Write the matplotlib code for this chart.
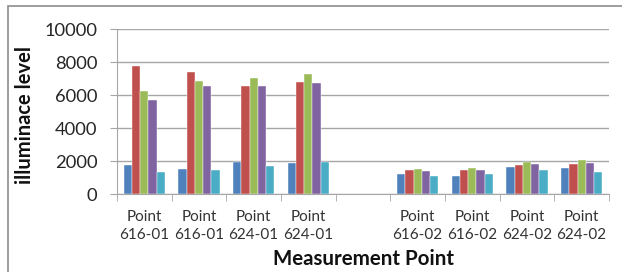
import numpy as np
import matplotlib
matplotlib.use("Agg")
import matplotlib.pyplot as plt
from matplotlib.patches import Rectangle

# -------------
# DATA
# -------------
labels = ["Point\n616-01", "Point\n616-01", "Point\n624-01", "Point\n624-01", "",
          "Point\n616-02", "Point\n616-02", "Point\n624-02", "Point\n624-02"]
s1 = [1780, 1560, 1960, 1880, np.nan, 1210, 1130, 1660, 1600]
s2 = [7750, 7410, 6540, 6830, np.nan, 1500, 1500, 1780, 1840]
s3 = [6240, 6890, 7050, 7290, np.nan, 1560, 1600, 1960, 2060]
s4 = [5700, 6540, 6540, 6770, np.nan, 1430, 1500, 1840, 1900]
s5 = [1350, 1500, 1720, 1960, np.nan, 1130, 1210, 1500, 1350]
series = [s1, s2, s3, s4, s5]
colors = ["#4F81BD", "#C0504D", "#9BBB59", "#8064A2", "#4BACC6"]
yticks = [0, 2000, 4000, 6000, 8000, 10000]

plt.rcParams['font.family'] = ['Lato', 'DejaVu Sans']

fig = plt.figure(figsize=(6.22, 2.72), dpi=100)
# chart frame (only top/left visible in the crop)
fig.patches.append(Rectangle((8/622, -0.1), 1.2, 1 - 6/272 + 0.1, transform=fig.transFigure,
                             fill=False, edgecolor="#8c8c8c", linewidth=1.2))

ax = fig.add_axes([117/622, 1 - 194.3/272, (609 - 117)/622, 165/272])

n = len(labels)
x = np.arange(n)
bw = 0.152
for i, (vals, c) in enumerate(zip(series, colors)):
    ax.bar(x + (i - 2) * bw, vals, width=bw, color=c, edgecolor="white", linewidth=0.3, zorder=3)

ax.set_xlim(-0.5, n - 0.5)
ax.set_ylim(0, 10000)
ax.set_yticks(yticks)
ax.set_yticklabels([str(v) for v in yticks], fontsize=13.2, color="#262626")
ax.grid(axis="y", color="#a6a6a6", linewidth=1.0, zorder=0)

ax.set_xticks(x)
ax.set_xticklabels(labels, fontsize=11, color="#333333", linespacing=1.4)
ax.set_xticks(np.arange(n + 1) - 0.5, minor=True)
ax.tick_params(axis="x", which="major", length=0, pad=11)
ax.tick_params(axis="x", which="minor", length=5, color="#a6a6a6")
ax.tick_params(axis="y", length=5, color="#a6a6a6", pad=9)

for s in ["top", "right"]:
    ax.spines[s].set_visible(False)
ax.spines["left"].set_color("#a6a6a6")
ax.spines["bottom"].set_color("#a6a6a6")

fig.text(25/622, 1 - 115/272, "illuminace level", rotation=90, ha="center", va="center",
         fontsize=14.5, fontweight="bold", color="#111111")
fig.text(363/622, 1 - 259/272, "Measurement Point", ha="center", va="center",
         fontsize=14.8, fontweight="bold", color="#111111")

fig.savefig("out.png", dpi=100, facecolor="white")
